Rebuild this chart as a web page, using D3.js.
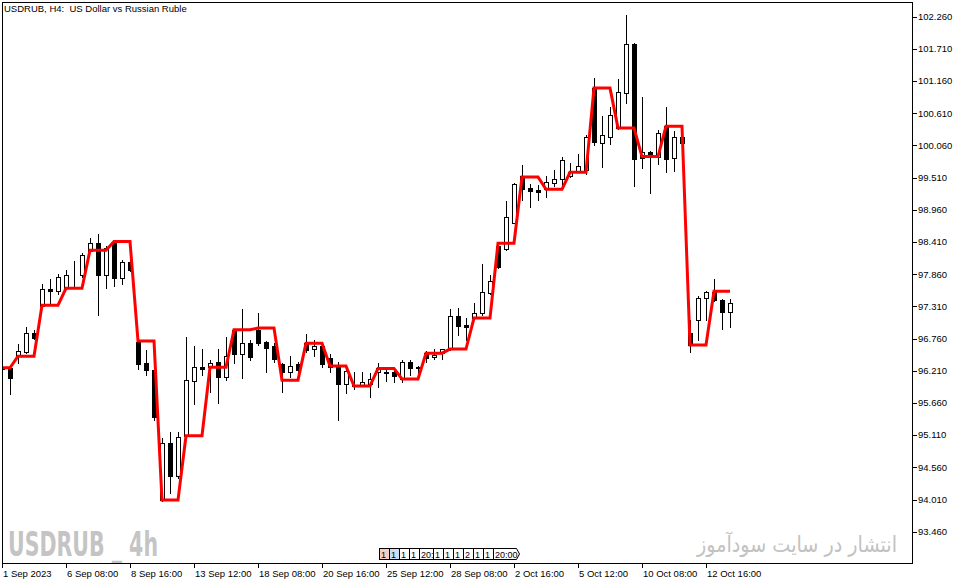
<!DOCTYPE html>
<html>
<head>
<meta charset="utf-8">
<script src="https://cdn.jsdelivr.net/npm/d3@7"></script>
<style>
  body { margin: 0; background: #fff; }
  svg text { font-family: "Liberation Sans", Arial, sans-serif; }
</style>
</head>
<body>
<svg id="chart" width="960" height="584"></svg>
<script>
// USDRUB H4 candles (one value per bar)
const opens = [96.27, 96.26, 96.46, 96.53, 96.85, 97.32, 97.61, 97.57, 97.63, 97.85,
  97.84, 98.26, 98.39, 97.84, 98.39, 97.79, 98.06, 96.71, 96.34, 96.23,
  94.00, 94.97, 94.42, 95.10, 96.04, 96.27, 96.27, 96.36, 96.10, 96.91,
  96.50, 96.68, 96.91, 96.70, 96.63, 96.32, 96.19, 96.32, 96.68, 96.58,
  96.64, 96.43, 96.27, 95.98, 95.95, 95.96, 95.99, 96.19, 96.19, 96.19,
  96.07, 96.36, 96.27, 96.51, 96.44, 96.51, 96.58, 97.14, 96.99, 97.11,
  97.20, 97.54, 98.34, 98.29, 98.74, 99.53, 99.33, 99.30, 99.31, 99.42,
  99.48, 99.53, 99.61, 99.64, 101.04, 100.11, 100.20, 100.35, 100.96, 101.79,
  99.84, 99.95, 99.87, 100.39, 99.84, 100.20, 96.85, 97.08, 97.45, 97.56,
  97.42, 97.22];
const highs = [96.29, 96.29, 96.67, 96.96, 96.91, 97.70, 97.78, 97.86, 97.93, 98.09,
  98.23, 98.48, 98.54, 98.35, 98.44, 98.10, 98.10, 96.73, 96.56, 96.26,
  95.06, 95.17, 95.17, 96.79, 96.63, 96.58, 96.40, 96.58, 96.79, 96.92,
  97.26, 96.73, 97.20, 96.72, 96.68, 96.34, 96.46, 96.36, 96.84, 96.73,
  96.68, 96.50, 96.36, 96.27, 96.19, 96.19, 96.17, 96.34, 96.27, 96.22,
  96.39, 96.39, 96.29, 96.55, 96.58, 96.59, 97.26, 97.28, 97.11, 97.37,
  98.03, 97.85, 98.39, 99.11, 99.42, 99.73, 99.40, 99.38, 99.54, 99.64,
  99.87, 99.76, 99.91, 100.24, 101.22, 100.56, 100.71, 101.19, 102.29, 101.81,
  100.88, 99.96, 100.32, 100.71, 100.30, 100.22, 97.08, 97.49, 97.57, 97.77,
  97.43, 97.43];
const lows = [96.22, 95.82, 96.35, 96.52, 96.75, 97.31, 97.33, 97.53, 97.62, 97.66,
  97.82, 98.24, 97.17, 97.63, 97.65, 97.69, 97.91, 96.24, 96.13, 95.37,
  93.98, 94.12, 94.38, 95.09, 95.65, 96.13, 95.85, 95.66, 96.05, 96.34,
  96.09, 96.39, 96.65, 96.19, 96.36, 95.85, 96.10, 96.19, 96.53, 96.46,
  96.28, 96.19, 95.37, 95.83, 95.90, 95.95, 95.76, 95.93, 96.03, 96.02,
  96.02, 96.13, 96.10, 96.36, 96.41, 96.41, 96.56, 96.82, 96.73, 97.09,
  97.17, 97.52, 97.97, 98.27, 98.73, 99.13, 99.01, 99.13, 99.18, 99.37,
  99.38, 99.52, 99.60, 99.57, 100.07, 99.70, 100.08, 100.34, 100.79, 99.37,
  99.68, 99.25, 99.74, 99.61, 99.63, 100.08, 96.53, 96.73, 97.08, 97.40,
  96.93, 96.96];
const closes = [96.24, 96.09, 96.55, 96.85, 96.77, 97.60, 97.57, 97.81, 97.85, 97.84,
  98.18, 98.39, 97.84, 98.31, 97.79, 98.06, 97.93, 96.32, 96.23, 95.42,
  94.97, 94.42, 95.07, 96.05, 96.27, 96.24, 96.35, 96.10, 96.46, 96.50,
  96.68, 96.44, 96.68, 96.60, 96.41, 96.19, 96.29, 96.22, 96.56, 96.63,
  96.32, 96.27, 95.99, 96.20, 95.96, 96.02, 96.07, 96.26, 96.17, 96.12,
  96.36, 96.26, 96.265, 96.43, 96.48, 96.58, 97.14, 96.97, 96.96, 97.20,
  97.56, 97.75, 97.98, 98.84, 99.40, 99.31, 99.29, 99.27, 99.43, 99.48,
  99.81, 99.61, 99.71, 100.20, 100.12, 100.24, 100.58, 100.97, 101.79, 99.83,
  99.94, 99.88, 100.27, 99.83, 100.20, 100.11, 96.65, 97.45, 97.55, 97.42,
  97.22, 97.36];

// red indicator line, one value per bar
const signal = [96.26, 96.26, 96.46, 96.46, 96.46, 97.33, 97.33, 97.33, 97.62, 97.62,
  97.62, 98.27, 98.27, 98.27, 98.42, 98.42, 98.42, 96.72, 96.72, 96.72,
  94.00, 94.00, 94.00, 95.10, 95.10, 95.10, 96.27, 96.27, 96.27, 96.91,
  96.91, 96.91, 96.94, 96.94, 96.94, 96.05, 96.05, 96.05, 96.68, 96.68,
  96.68, 96.29, 96.29, 96.29, 95.95, 95.95, 95.95, 96.25, 96.25, 96.25,
  96.07, 96.07, 96.07, 96.51, 96.51, 96.51, 96.58, 96.58, 96.58, 97.11,
  97.11, 97.11, 98.39, 98.39, 98.39, 99.52, 99.52, 99.52, 99.31, 99.31,
  99.31, 99.60, 99.60, 99.60, 101.04, 101.04, 101.04, 100.36, 100.36, 100.36,
  99.87, 99.87, 99.87, 100.39, 100.39, 100.39, 96.65, 96.65, 96.65, 97.57,
  97.57, 97.57];

const yTicks = [102.26, 101.71, 101.16, 100.61, 100.06, 99.51, 98.96, 98.41, 97.86,
  97.31, 96.76, 96.21, 95.66, 95.11, 94.56, 94.01, 93.46];
const xTickBars = [0, 8, 16, 24, 32, 40, 48, 56, 64, 72, 80, 88];
const xTickLabels = ["1 Sep 2023", "6 Sep 08:00", "8 Sep 16:00", "13 Sep 12:00", "18 Sep 08:00",
  "20 Sep 16:00", "25 Sep 12:00", "28 Sep 08:00", "2 Oct 16:00", "5 Oct 12:00",
  "10 Oct 08:00", "12 Oct 16:00"];
const stripLabels = ["1", "1", "1", "1", "20:", "1", "1", "1", "2", "1", "1", "20:00"];

const svg = d3.select("#chart");
const plotL = 2, plotR = 912, plotT = 2, plotB = 563;

const x = d3.scaleLinear().domain([0, 91]).range([2, 730]);
const y = d3.scaleLinear().domain([93.46, 102.26]).range([531.7, 16.7]);

const bars = opens.map((o, i) => ({ i, o, h: highs[i], l: lows[i], c: closes[i] }));

svg.append("clipPath").attr("id", "plot")
  .append("rect").attr("x", plotL).attr("y", plotT)
  .attr("width", plotR - plotL).attr("height", plotB - plotT);

// watermarks
svg.append("text")
  .attr("x", 8).attr("y", 556)
  .attr("textLength", 150).attr("lengthAdjust", "spacingAndGlyphs")
  .style("font-family", "'Liberation Sans Narrow', 'DejaVu Sans Condensed', sans-serif")
  .style("font-weight", "bold").style("font-size", "33px")
  .attr("fill", "#c4c4c4")
  .text("USDRUB _ 4h");

// persian watermark, squeezed to 200px wide with a transform
const fa = svg.append("g");
const faText = fa.append("text")
  .attr("x", 0).attr("y", 0)
  .attr("text-anchor", "end")
  .style("font-family", "'DejaVu Sans', sans-serif")
  .style("font-size", "22px")
  .attr("fill", "#c2c2c2")
  .text("انتشار در سایت سودآموز");
const faLen = faText.node().getComputedTextLength() || 200;
fa.attr("transform", `translate(897,552) scale(${200 / faLen},1)`);

const g = svg.append("g").attr("clip-path", "url(#plot)");

// candles
const candle = g.selectAll("g.candle").data(bars).join("g").attr("class", "candle")
  .attr("shape-rendering", "crispEdges");

candle.append("line")
  .attr("x1", d => Math.round(x(d.i)) + 0.5).attr("x2", d => Math.round(x(d.i)) + 0.5)
  .attr("y1", d => Math.round(y(d.h))).attr("y2", d => Math.round(y(d.l)) + 1)
  .attr("stroke", "#000");

candle.append("rect")
  .attr("x", d => Math.round(x(d.i)) - 1.5)
  .attr("y", d => Math.round(y(Math.max(d.o, d.c))) + 0.5)
  .attr("width", 4)
  .attr("height", d => Math.max(0, Math.round(y(Math.min(d.o, d.c))) - Math.round(y(Math.max(d.o, d.c)))))
  .attr("fill", d => d.c >= d.o ? "#fff" : "#000")
  .attr("stroke", "#000");

// red step line
const line = d3.line().x((d, i) => x(i)).y(d => y(d));
g.append("path")
  .datum(signal)
  .attr("d", line)
  .attr("fill", "none")
  .attr("stroke", "#ff0000")
  .attr("stroke-width", 3)
  .attr("stroke-linejoin", "miter");

// frame
svg.append("rect")
  .attr("x", plotL + 0.5).attr("y", plotT + 0.5)
  .attr("width", plotR - plotL).attr("height", plotB - plotT)
  .attr("fill", "none").attr("stroke", "#000")
  .attr("shape-rendering", "crispEdges");

// price axis
const yAxis = svg.append("g").attr("shape-rendering", "crispEdges");
yAxis.selectAll("line").data(yTicks).join("line")
  .attr("x1", plotR + 0.5).attr("x2", plotR + 4.5)
  .attr("y1", d => Math.round(y(d)) + 0.5).attr("y2", d => Math.round(y(d)) + 0.5)
  .attr("stroke", "#000");
yAxis.selectAll("text").data(yTicks).join("text")
  .attr("x", plotR + 6).attr("y", d => y(d))
  .attr("dy", "0.35em")
  .style("font-size", "9.5px")
  .attr("fill", "#000")
  .text(d => d3.format(".3f")(d));

// time axis
const xAxis = svg.append("g").attr("shape-rendering", "crispEdges");
xAxis.selectAll("line").data(xTickBars).join("line")
  .attr("x1", d => Math.round(x(d)) + 0.5).attr("x2", d => Math.round(x(d)) + 0.5)
  .attr("y1", plotB).attr("y2", plotB + 5)
  .attr("stroke", "#000");
xAxis.selectAll("text").data(xTickBars).join("text")
  .attr("x", d => Math.round(x(d)) + 1).attr("y", 577)
  .style("font-size", "9.5px")
  .attr("fill", "#000")
  .text((d, k) => xTickLabels[k]);

// little date strip in the middle of the bottom
const stripW = stripLabels.map(s => s.length > 3 ? 27 : (s.length > 1 ? 14 : 10));
let sx = 379;
const strip = svg.append("g");
stripLabels.forEach((s, k) => {
  const w = stripW[k];
  const fill = k === 0 ? "#f6cfc2" : (k === 1 ? "#c9def5" : "#fff");
  if (k === stripLabels.length - 1) {
    strip.append("path")
      .attr("d", `M${sx + 0.5},548.5 h${w - 4} l3,5.5 l-3,5.5 h${-(w - 4)} Z`)
      .attr("fill", fill).attr("stroke", "#000");
  } else {
    strip.append("rect")
      .attr("x", sx + 0.5).attr("y", 548.5).attr("width", w).attr("height", 11)
      .attr("fill", fill).attr("stroke", "#000").attr("shape-rendering", "crispEdges");
  }
  strip.append("text")
    .attr("x", sx + 2).attr("y", 557.5)
    .style("font-size", "9px").attr("fill", "#000")
    .text(s);
  sx += w;
});

// title
svg.append("text")
  .attr("x", 4).attr("y", 12)
  .style("font-size", "9.5px")
  .attr("fill", "#000")
  .attr("xml:space", "preserve")
  .text("USDRUB, H4:  US Dollar vs Russian Ruble");
</script>
</body>
</html>
